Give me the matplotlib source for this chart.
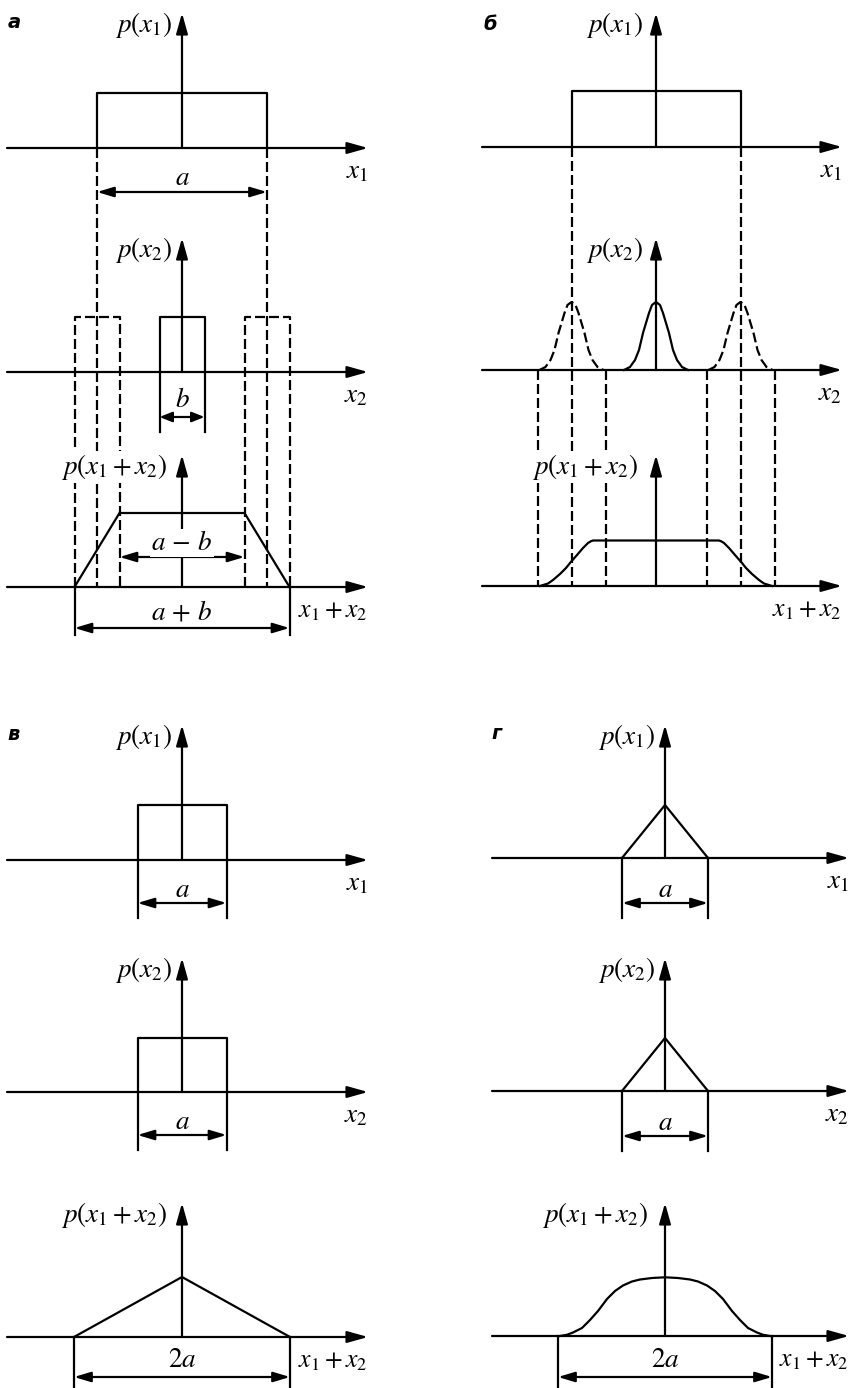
import numpy as np
import matplotlib.pyplot as plt

plt.rcParams['mathtext.fontset'] = 'stix'

# а: uniform x1 (width a) + uniform x2 (width b)
a_1 = 170
b_1 = 45
h_x1_1 = 55
h_x2_1 = 55
h_sum_1 = 74

# б: uniform x1 + narrow bell-shaped x2
a_2 = 169
h_x1_2 = 56
bell_dx = [-32, -26, -21, -17, -13, -10, -7, -4, 0, 4, 7, 10, 13, 17, 21, 26, 32]
bell_h = [0, 3, 10, 20, 37, 47, 57, 65, 68, 65, 57, 47, 37, 20, 10, 3, 0]
bell_half = 34
sum2_dx = [-116, -108, -103, -96, -90, -86, -79, -73, -68, -65, -63,
           63, 65, 68, 73, 79, 86, 90, 96, 103, 108, 116]
sum2_h = [0, 2.5, 6, 12, 18, 23, 31, 38, 43, 44.8, 45.5,
          45.5, 44.8, 43, 38, 31, 23, 18, 12, 6, 2.5, 0]

# в: two uniform laws of the same width a
a_3 = 89
h_x1_3 = 55
h_x2_3 = 54
sum3_width = 216
h_sum_3 = 60

# г: two triangular laws of the same width a
a_4 = 86
h_x1_4 = 53
h_x2_4 = 53
sum4_dx = [-105, -98, -92, -83, -75, -67, -58, -50, -42, -33, -25, -13, 0,
           13, 25, 33, 42, 50, 58, 67, 75, 83, 92, 98, 105]
sum4_h = [0, 1.2, 3.5, 8, 16, 25, 37, 45, 50.5, 54.5, 56.5, 58, 58.7,
          58, 56.5, 54.5, 50.5, 45, 37, 25, 16, 8, 3.5, 1.2, 0]
sum4_width = 214

fig = plt.figure(figsize=(8.51, 13.88), dpi=100)
ax = fig.add_axes([0, 0, 1, 1])
ax.set_xlim(0, 851)
ax.set_ylim(1388, 0)
ax.axis('off')

LW = 1.6
DASH = (0, (4.5, 1.8))
FS = 19.5
WHITE = dict(facecolor='white', edgecolor='none', pad=1)


def arrow(x0, y0, x1, y1, style='-|>', hl=1.25, hw=0.35):
    ax.annotate('', xy=(x1, y1), xytext=(x0, y0),
                arrowprops=dict(arrowstyle=f'{style},head_length={hl},head_width={hw}',
                                mutation_scale=10, lw=LW, color='k',
                                shrinkA=0, shrinkB=0))


def line(x, y, dashed=False):
    ax.plot(x, y, color='k', lw=LW, ls=DASH if dashed else '-',
            solid_joinstyle='round', zorder=2)


def shape(cx, y0, dx, h, dashed=False):
    line(cx + np.asarray(dx, float), y0 - np.asarray(h, float), dashed)


def vline(x, y0, y1, dashed=False):
    line([x, x], [y0, y1], dashed)


def plot_axes(cx, y0, top, right, left, ylab, xlab, yoff=10, white=False, xfs=FS):
    arrow(left, y0, right, y0)
    arrow(cx, y0, cx, top)
    ax.text(cx - yoff, top + 12, ylab, ha='right', va='center', fontsize=FS,
            zorder=5, bbox=WHITE if white else None)
    ax.text(right, y0 + 23, xlab, ha='right', va='center', fontsize=xfs, zorder=5)


def dim(x0, x1, y, label, dy=14, white=False, hl=1.0):
    arrow(x0, y, x1, y, '<|-|>', hl=hl, hw=0.3)
    ax.text((x0 + x1) / 2, y - dy, label, ha='center', va='center',
            fontsize=FS, zorder=5, bbox=WHITE if white else None)


def rect(w, h):
    return [-w / 2, -w / 2, w / 2, w / 2], [0, h, h, 0]


def panel_label(x, y, s):
    ax.text(x, y, s, fontsize=14, style='italic', weight='bold',
            family='DejaVu Sans', ha='center', va='center')


SUM_FS = 18.5

# ---------- а ----------
cx, rows, tops, L, R = 182, [148, 372, 587], [13, 238, 455], 7, 368
panel_label(14, 22, 'а')
plot_axes(cx, rows[0], tops[0], R, L, r'$p(x_1)$', r'$x_1$')
plot_axes(cx, rows[1], tops[1], R, L, r'$p(x_2)$', r'$x_2$')
plot_axes(cx, rows[2], tops[2], R, L, r'$p(x_1+x_2)$', r'$x_1+x_2$', yoff=15,
          white=True, xfs=SUM_FS)
shape(cx, rows[0], *rect(a_1, h_x1_1))
shape(cx, rows[1], *rect(b_1, h_x2_1))
for s in (-a_1 / 2, a_1 / 2):
    vline(cx + s, rows[0], rows[2], dashed=True)
    xs = cx + s + np.array([-b_1 / 2, -b_1 / 2, b_1 / 2, b_1 / 2])
    ys = [rows[2], rows[1] - h_x2_1, rows[1] - h_x2_1, rows[2]]
    line(xs, ys, dashed=True)
dim(cx - a_1 / 2, cx + a_1 / 2, rows[0] + 44, r'$a$')
for s in (-b_1 / 2, b_1 / 2):
    vline(cx + s, rows[1], rows[1] + 60)
dim(cx - b_1 / 2, cx + b_1 / 2, rows[1] + 45, r'$b$', dy=17, hl=0.75)
half_sum, half_top = (a_1 + b_1) / 2, (a_1 - b_1) / 2
shape(cx, rows[2], [-half_sum, -half_top, half_top, half_sum], [0, h_sum_1, h_sum_1, 0])
dim(cx - half_top, cx + half_top, rows[2] - 30, r'$a\,-\,b$', white=True)
for s in (-half_sum, half_sum):
    vline(cx + s, rows[2], rows[2] + 48)
dim(cx - half_sum, cx + half_sum, rows[2] + 41, r'$a\,+\,b$', dy=16)

# ---------- б ----------
cx, rows, tops, L, R = 656, [147, 370, 586], [13, 238, 455], 482, 842
panel_label(490, 24, 'б')
plot_axes(cx, rows[0], tops[0], R, L, r'$p(x_1)$', r'$x_1$', yoff=13)
plot_axes(cx, rows[1], tops[1], R, L, r'$p(x_2)$', r'$x_2$', yoff=13)
plot_axes(cx, rows[2], tops[2], R, L, r'$p(x_1+x_2)$', r'$x_1+x_2$', yoff=18,
          white=True, xfs=SUM_FS)
shape(cx, rows[0], *rect(a_2, h_x1_2))
shape(cx, rows[1], bell_dx, bell_h)
for s in (-a_2 / 2, a_2 / 2):
    shape(cx + s, rows[1], bell_dx, bell_h, dashed=True)
    vline(cx + s, rows[0], rows[2], dashed=True)
    for e in (-bell_half, bell_half):
        vline(cx + s + e, rows[1], rows[2], dashed=True)
shape(cx, rows[2], sum2_dx, sum2_h)

# ---------- в ----------
cx, rows, tops, L, R = 182, [860, 1092, 1337], [725, 958, 1203], 7, 368
panel_label(14, 734, 'в')
plot_axes(cx, rows[0], tops[0], R, L, r'$p(x_1)$', r'$x_1$')
plot_axes(cx, rows[1], tops[1], R, L, r'$p(x_2)$', r'$x_2$')
plot_axes(cx, rows[2], tops[2], R, L, r'$p(x_1+x_2)$', r'$x_1+x_2$', yoff=15, xfs=SUM_FS)
for row, h in ((rows[0], h_x1_3), (rows[1], h_x2_3)):
    shape(cx, row, *rect(a_3, h))
    for s in (-a_3 / 2, a_3 / 2):
        vline(cx + s, row, row + 58)
    dim(cx - a_3 / 2, cx + a_3 / 2, row + 43, r'$a$', dy=13)
shape(cx, rows[2], [-sum3_width / 2, 0, sum3_width / 2], [0, h_sum_3, 0])
for s in (-sum3_width / 2, sum3_width / 2):
    vline(cx + s, rows[2], 1390)
dim(cx - sum3_width / 2, cx + sum3_width / 2, rows[2] + 40, r'$2a$', dy=17)

# ---------- г ----------
cx, rows, tops, L, R = 665, [858, 1091, 1336], [725, 958, 1203], 492, 849
panel_label(497, 733, 'г')
plot_axes(cx, rows[0], tops[0], R, L, r'$p(x_1)$', r'$x_1$')
plot_axes(cx, rows[1], tops[1], R, L, r'$p(x_2)$', r'$x_2$')
plot_axes(cx, rows[2], tops[2], R, L, r'$p(x_1+x_2)$', r'$x_1+x_2$', yoff=17, xfs=SUM_FS)
for row, h in ((rows[0], h_x1_4), (rows[1], h_x2_4)):
    shape(cx, row, [-a_4 / 2, 0, a_4 / 2], [0, h, 0])
    for s in (-a_4 / 2, a_4 / 2):
        vline(cx + s, row, row + 60)
    dim(cx - a_4 / 2, cx + a_4 / 2, row + 45, r'$a$', dy=13)
shape(cx, rows[2], sum4_dx, sum4_h)
for s in (-sum4_width / 2, sum4_width / 2):
    vline(cx + s, rows[2], 1390)
dim(cx - sum4_width / 2, cx + sum4_width / 2, rows[2] + 41, r'$2a$', dy=17)

fig.savefig('out.png', dpi=100, facecolor='white')
